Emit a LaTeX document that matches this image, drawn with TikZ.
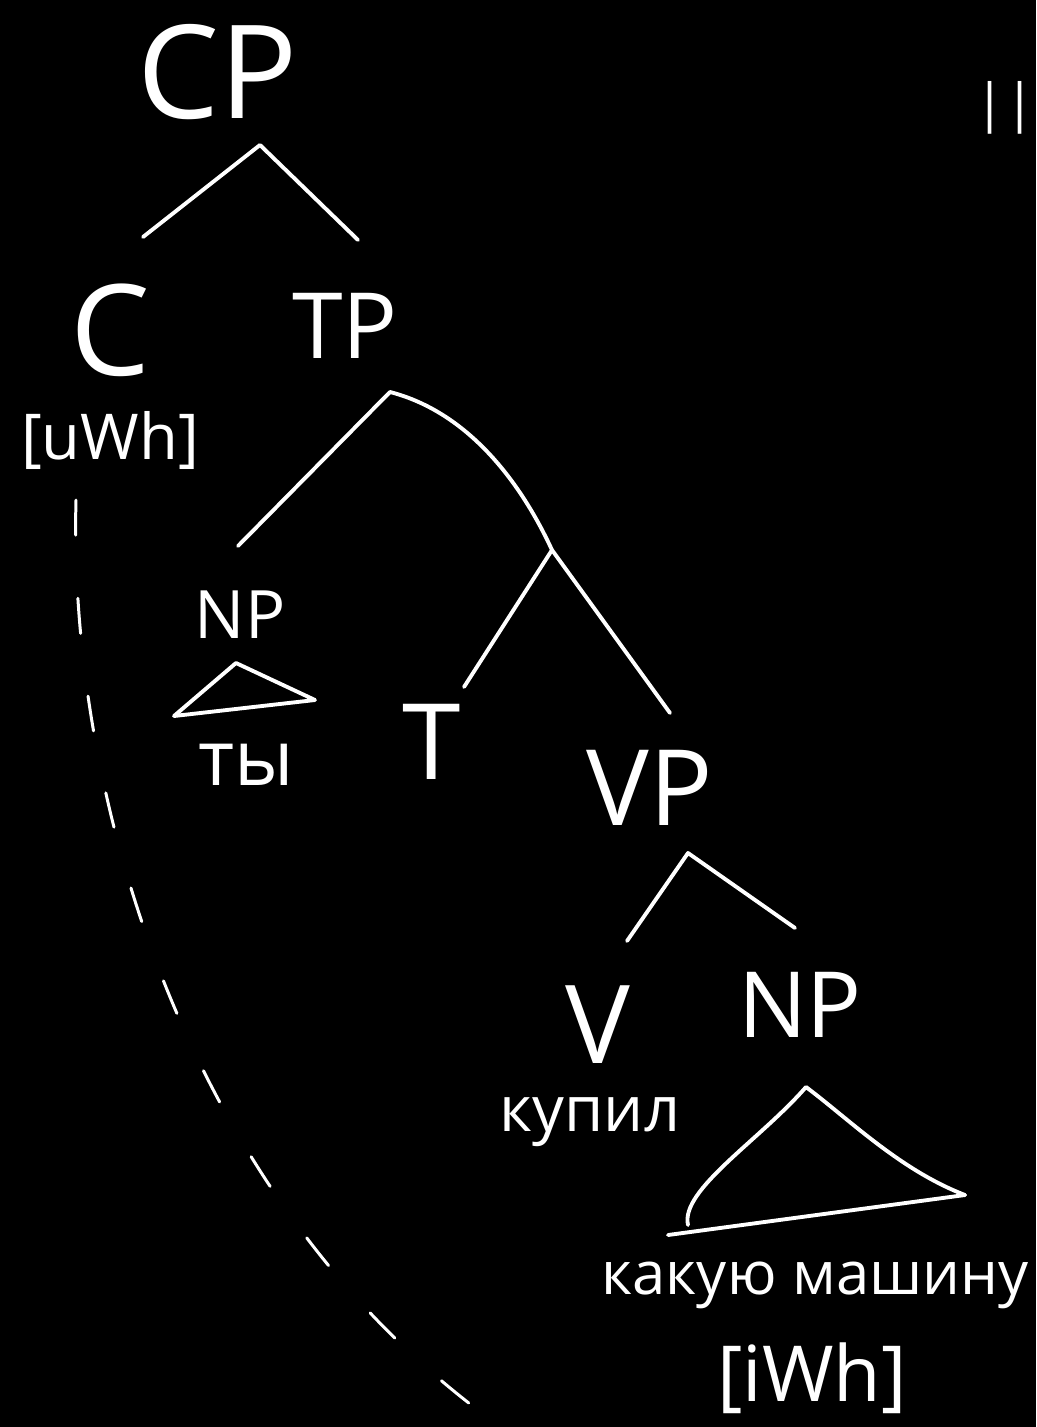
\documentclass[tikz,border=0pt]{standalone}
\usepackage{fontspec}
\setmainfont{Open Sans}
\usetikzlibrary{positioning}

\tikzset{
  lab/.style={text=white, inner sep=0pt, font=\fontsize{#1}{#1}\selectfont},
  branch/.style={draw=white, line width=2.2pt, line cap=round, line join=round},
  agree/.style={draw=white, line width=1.7pt, line cap=round, dash pattern=on 20pt off 36pt}
}

\begin{document}
\begin{tikzpicture}[x=0.02cm, y=-0.02cm]
  \fill[black] (0,0) rectangle (1036,1427);
  \useasboundingbox (0,0) rectangle (1036,1427);
  \clip (0,0) rectangle (1036,1427);

  % labels
  \node[lab=74pt] (CP) at (218,72) {CP};
  \node[lab=72pt] (C) at (110,330) {C};
  \node[lab=36pt] (uwh) at (110,440) {[uWh]};
  \node[lab=52pt] (TP) at (345,326) {TP};
  \node[lab=38pt] (np-ty) at (240,615) {NP};
  \node[lab=44pt] (ty) at (246,765) {ты};
  \node[lab=60pt] (T) at (432,742) {T};
  \node[lab=60pt] (VP) at (650,788) {VP};
  \node[lab=62pt] (V) at (598,1025) {V};
  \node[lab=36pt] (kupil) at (590,1122) {купил};
  \node[lab=52pt] (np-wh) at (800,1005) {NP};
  \node[lab=34pt] (mashinu) at (815,1285) {какую машину};
  \node[lab=44pt] (iwh) at (812,1378) {[iWh]};
  \node[lab=30pt] (mark) at (1005,108) {||};

  % branch points
  \coordinate (cp-j) at (260,145);
  \coordinate (c-top) at (143,237);
  \coordinate (tp-top) at (358,240);
  \coordinate (tp-j) at (390,392);
  \coordinate (npty-top) at (238,546);
  \coordinate (tbar-j) at (552,550);
  \coordinate (t-top) at (464,687);
  \coordinate (vp-top) at (670,713);
  \coordinate (vp-j) at (688,853);
  \coordinate (v-top) at (627,941);
  \coordinate (npwh-top) at (795,928);

  % triangles
  \coordinate (ty-a) at (236,663);
  \coordinate (ty-l) at (174,716);
  \coordinate (ty-r) at (315,700);
  \coordinate (wh-a) at (806,1087);
  \coordinate (wh-l) at (688,1225);
  \coordinate (wh-r) at (965,1195);
  \coordinate (wh-base) at (668,1235);

  % agreement line
  \coordinate (agree-start) at (76,500);
  \coordinate (agree-end) at (520,1440);

  \draw[branch] (c-top) -- (cp-j) -- (tp-top);
  \draw[branch] (npty-top) -- (tp-j) .. controls (460,410) and (515,470) .. (tbar-j) -- (vp-top);
  \draw[branch] (tbar-j) -- (t-top);
  \draw[branch] (v-top) -- (vp-j) -- (npwh-top);

  \draw[branch] (ty-a) -- (ty-r) -- (ty-l) -- cycle;
  \draw[branch] (wh-r) .. controls (900,1170) and (850,1120) .. (wh-a)
    .. controls (760,1140) and (680,1190) .. (wh-l);
  \draw[branch] (wh-base) -- (wh-r);

  \draw[agree] (agree-start) .. controls (68,800) and (190,1220) .. (agree-end);
\end{tikzpicture}
\end{document}
